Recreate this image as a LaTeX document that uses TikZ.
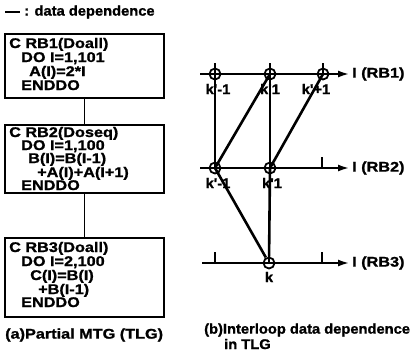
\documentclass[tikz,border=0pt]{standalone}
\usepackage{fontspec}
\setmainfont{Liberation Sans}
\newfontfamily\heavyfont[FakeBold=1.2,FakeStretch=1.05]{Liberation Sans}
\newfontfamily\widefont[FakeBold=1.2,FakeStretch=1.16]{Liberation Sans}
\usetikzlibrary{arrows.meta}

\tikzset{
  txt/.style={inner sep=0pt, font=\heavyfont\fontsize{14}{15}\selectfont\bfseries},
  widetxt/.style={inner sep=0pt, font=\widefont\fontsize{14}{15}\selectfont\bfseries},
  codeline/.style={widetxt, anchor=base west},
  loopbox/.style={draw, line width=1.8pt, minimum width=159pt, inner sep=0pt},
  iter/.style={draw, circle, line width=1.8pt, minimum size=11pt, inner sep=0pt},
  axis/.style={line width=1.7pt, -{Latex[length=11pt,width=7pt]}},
  dep/.style={line width=2.6pt},
  iterlbl/.style={txt}
}

\begin{document}
\begin{tikzpicture}[x=1pt,y=-1pt]
    \useasboundingbox (0,0) rectangle (413,359);

    % legend
    \coordinate (lgA) at (5,12);
    \coordinate (lgB) at (20,12);
    \draw [line width=1.6pt] (lgA) -- (lgB);
    \node [txt, anchor=west] (lgtext) at (24,12) {: data dependence};

    % loop boxes
    \node [loopbox, minimum height=64pt] (rb1) at (84.5,66) {};
    \node [loopbox, minimum height=68pt] (rb2) at (84.5,159) {};
    \node [loopbox, minimum height=79pt] (rb3) at (84.5,277.5) {};
    \draw [line width=1.8pt] (rb1) -- (rb2);
    \draw [line width=1.8pt] (rb2) -- (rb3);

    % box texts
    \node [codeline] (t11) at (9,48) {C RB1(Doall)};
    \node [codeline] (t12) at (21,62) {DO I=1,101};
    \node [codeline] (t13) at (29,76) {A(I)=2*I};
    \node [codeline] (t14) at (21,90) {ENDDO};

    \node [codeline] (t21) at (9,137) {C RB2(Doseq)};
    \node [codeline] (t22) at (21,150) {DO I=1,100};
    \node [codeline] (t23) at (28,163) {B(I)=B(I-1)};
    \node [codeline] (t24) at (37,177) {+A(I)+A(I+1)};
    \node [codeline] (t25) at (21,190) {ENDDO};

    \node [codeline] (t31) at (9,252) {C RB3(Doall)};
    \node [codeline] (t32) at (21,266) {DO I=2,100};
    \node [codeline] (t33) at (30,280) {C(I)=B(I)};
    \node [codeline] (t34) at (38,294) {+B(I-1)};
    \node [codeline] (t35) at (21,307) {ENDDO};

    % captions
    \node [widetxt, anchor=west] (capa) at (5,335) {(a)Partial MTG (TLG)};
    \node [txt, anchor=west] (capb) at (204,330) {(b)Interloop data dependence};
    \node [txt, anchor=west] (capb2) at (224,344) {in TLG};

    % axes
    \coordinate (s1) at (200,74);  \coordinate (e1) at (349,74);
    \coordinate (s2) at (200,168); \coordinate (e2) at (349,168);
    \coordinate (s3) at (202,263); \coordinate (e3) at (349,263);
    \draw [axis] (s1) -- (e1);
    \draw [axis] (s2) -- (e2);
    \draw [axis] (s3) -- (e3);
    \node [widetxt, anchor=west] (l1) at (352,74) {I (RB1)};
    \node [widetxt, anchor=west] (l2) at (352,168) {I (RB2)};
    \node [widetxt, anchor=west] (l3) at (352,263) {I (RB3)};

    % ticks
    \foreach \x/\y in {215/74, 270/74, 323/74, 215/168, 270/168, 322/168, 215/263, 322/263, 269/263}
      \draw [line width=1.4pt] (\x,\y) -- (\x,\y-11);

    % iterations
    \node [iter] (a1) at (215,74) {};
    \node [iter] (a2) at (270,74) {};
    \node [iter] (a3) at (323,74) {};
    \node [iter] (b1) at (215,168) {};
    \node [iter] (b2) at (270,168) {};
    \node [iter] (c2) at (269,263) {};

    \node [iterlbl] (la1) at (218,89) {k'-1};
    \node [iterlbl] (la2) at (270,89) {k'1};
    \node [iterlbl] (la3) at (316,89) {k'+1};
    \node [iterlbl] (lb1) at (218,183) {k'-1};
    \node [iterlbl] (lb2) at (272,183) {k'1};
    \node [iterlbl] (lc2) at (269,277) {k};

    % dependences
    \draw [dep] (a1.center) -- (b1.center);
    \draw [dep] (a2.center) -- (b1.center);
    \draw [dep] (a2.center) -- (b2.center);
    \draw [dep] (a3.center) -- (b2.center);
    \draw [dep] (b1.center) -- (c2);
    \draw [dep] (b2.center) -- (c2);
\end{tikzpicture}
\end{document}
